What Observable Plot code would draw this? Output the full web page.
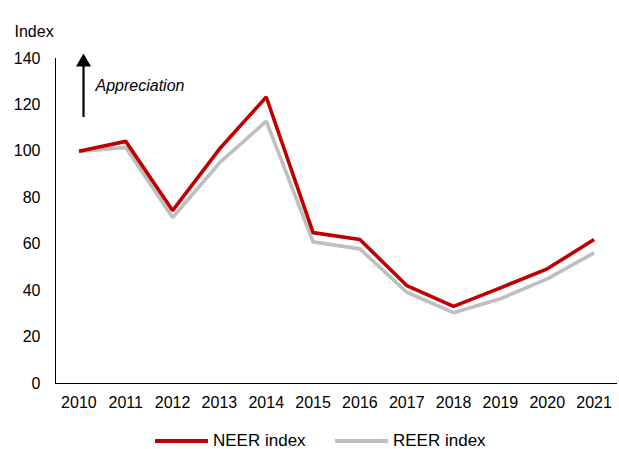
<!DOCTYPE html>
<html>
<head>
<meta charset="utf-8">
<script src="https://cdn.jsdelivr.net/npm/d3@7"></script>
<script src="https://cdn.jsdelivr.net/npm/@observablehq/plot@0.6"></script>
<style>
  html, body { margin: 0; padding: 0; background: #fff; }
  body { width: 619px; height: 449px; overflow: hidden; font-family: "Liberation Sans", Arial, sans-serif; }
  #legend { position: relative; height: 29px; font-size: 17px; color: #000; }
  .item { position: absolute; top: 12px; height: 17px; line-height: 17px; display: flex; align-items: center; }
  .swatch { width: 53px; height: 4px; margin-right: 5px; }
</style>
</head>
<body>
<div id="chart"></div>
<div id="legend"></div>
<script>
const years = [2010, 2011, 2012, 2013, 2014, 2015, 2016, 2017, 2018, 2019, 2020, 2021];
const neer = [100, 104.3, 74.5, 101, 123.4, 65, 62, 42.2, 33.2, 41.2, 49.4, 62];
const reer = [100, 101.7, 71.5, 95, 113, 61, 58, 39.3, 30.5, 36.5, 45.1, 56.3];
const yTicks = [0, 20, 40, 60, 80, 100, 120, 140];
const seriesNames = ["NEER index", "REER index"];
const seriesColors = ["#C00000", "#BFBFBF"];
const yLabel = "Index";
const noteText = "Appreciation";

const rows = [];
years.forEach((yr, i) => {
  rows.push({year: yr, value: reer[i], series: seriesNames[1]});
});
years.forEach((yr, i) => {
  rows.push({year: yr, value: neer[i], series: seriesNames[0]});
});

const font = "'Liberation Sans', Arial, sans-serif";

const plot = Plot.plot({
  width: 619,
  height: 420,
  marginTop: 58,
  marginBottom: 37,
  marginLeft: 55,
  marginRight: 2,
  style: {fontFamily: font, fontSize: "16px", color: "#000", background: "#fff"},
  x: {domain: [2009.5, 2021.5], ticks: years, tickFormat: d => String(d), tickSize: 0, tickPadding: 13, label: null},
  y: {domain: [0, 140], ticks: yTicks, tickSize: 0, tickPadding: 15, label: null},
  color: {domain: seriesNames, range: seriesColors},
  marks: [
    Plot.ruleX([2009.5], {y1: 0, y2: 140, stroke: "#000", strokeWidth: 1}),
    Plot.ruleY([0], {stroke: "#000", strokeWidth: 1}),
    Plot.line(rows, {x: "year", y: "value", z: "series", stroke: "series", strokeWidth: 3.6, strokeLinejoin: "miter", strokeLinecap: "butt"}),
    Plot.ruleX([years[0]], {y1: 114.6, y2: 137, dx: 4.6, stroke: "#000", strokeWidth: 2.2}),
    Plot.dot([years[0]], {x: d => d, y: 138.4, dx: 4.6, symbol: "triangle", r: 5.6, fill: "#000", stroke: "none"}),
    Plot.text([noteText], {x: years[0], y: 128.4, dx: 16.6, text: d => d, textAnchor: "start", fontStyle: "italic", fontSize: 16}),
    Plot.text([yLabel], {frameAnchor: "top-left", dx: -41, dy: -33, text: d => d, textAnchor: "start", fontSize: 16})
  ]
});
document.getElementById("chart").appendChild(plot);

const legend = document.getElementById("legend");
const lefts = [155, 335];
seriesNames.forEach((name, i) => {
  const item = document.createElement("div");
  item.className = "item";
  item.style.left = lefts[i] + "px";
  const sw = document.createElement("div");
  sw.className = "swatch";
  sw.style.background = seriesColors[i];
  const lab = document.createElement("span");
  lab.textContent = name;
  item.appendChild(sw);
  item.appendChild(lab);
  legend.appendChild(item);
});
</script>
</body>
</html>
